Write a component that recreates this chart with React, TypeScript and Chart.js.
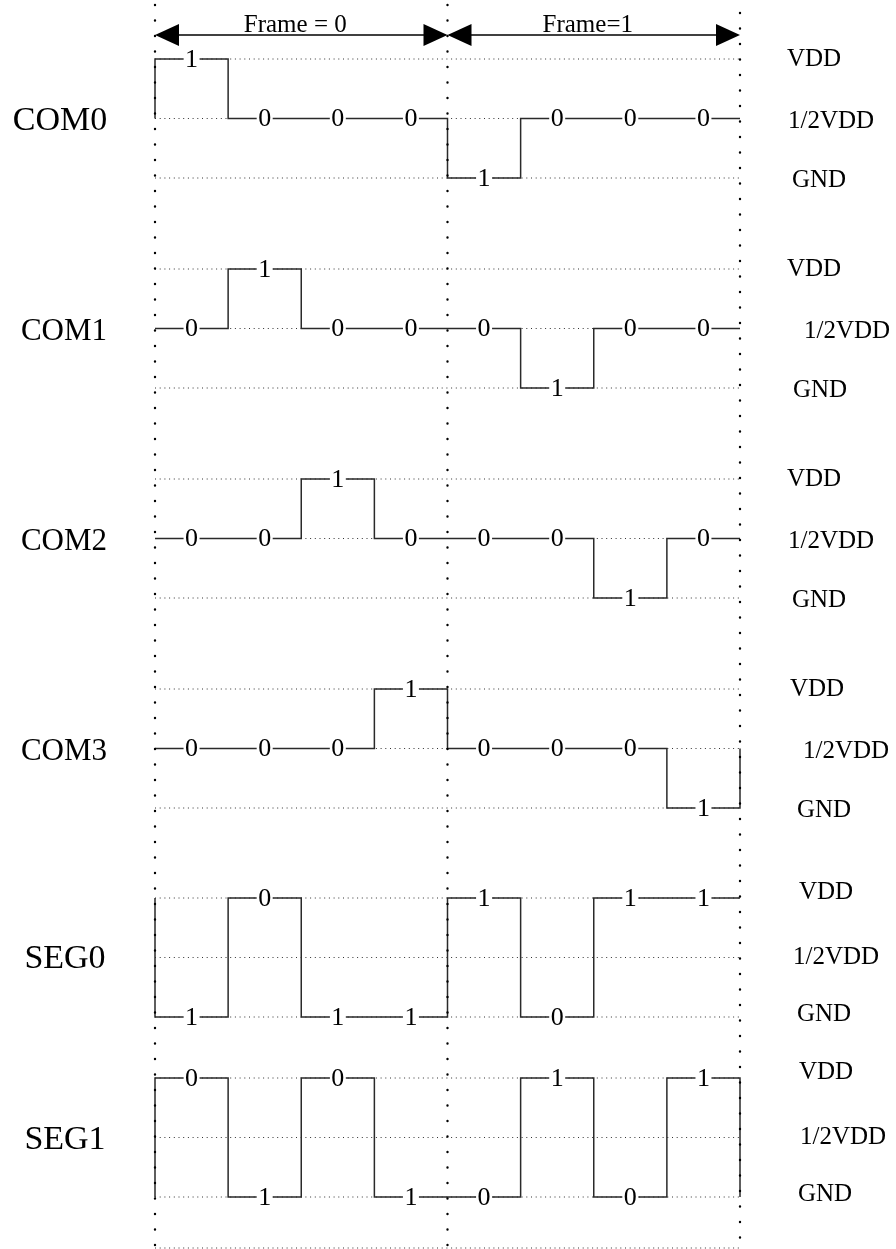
import React, { useEffect, useRef } from 'react';
import { Chart, registerables } from 'chart.js';

Chart.register(...registerables);

// ---------- data ----------
const signalNames = ['COM0', 'COM1', 'COM2', 'COM3', 'SEG0', 'SEG1'];
const levelNames = ['VDD', '1/2VDD', 'GND'];
const levelValues = [1, 0.5, 0];
const frameLabels = ['Frame = 0', 'Frame=1'];
const frameBounds = [[0, 4], [4, 8]];
const slotCount = 8;

// level per time slot: 1 = VDD, 0.5 = 1/2VDD, 0 = GND
const com0Levels = [1, 0.5, 0.5, 0.5, 0, 0.5, 0.5, 0.5];
const com1Levels = [0.5, 1, 0.5, 0.5, 0.5, 0, 0.5, 0.5];
const com2Levels = [0.5, 0.5, 1, 0.5, 0.5, 0.5, 0, 0.5];
const com3Levels = [0.5, 0.5, 0.5, 1, 0.5, 0.5, 0.5, 0];
const seg0Levels = [0, 1, 0, 0, 1, 0, 1, 1];
const seg1Levels = [1, 0, 1, 0, 0, 1, 0, 1];

// bit printed in each slot
const com0Bits = ['1', '0', '0', '0', '1', '0', '0', '0'];
const com1Bits = ['0', '1', '0', '0', '0', '1', '0', '0'];
const com2Bits = ['0', '0', '1', '0', '0', '0', '1', '0'];
const com3Bits = ['0', '0', '0', '1', '0', '0', '0', '1'];
const seg0Bits = ['1', '0', '1', '1', '1', '0', '1', '1'];
const seg1Bits = ['0', '1', '0', '1', '0', '1', '0', '1'];

// level before the first slot and after the last slot
const startLevels = [0.5, 0.5, 0.5, 0.5, 1, 0];
const endLevels = [0.5, 0.5, 0.5, 0.5, 1, 0];

const allLevels = [com0Levels, com1Levels, com2Levels, com3Levels, seg0Levels, seg1Levels];
const allBits = [com0Bits, com1Bits, com2Bits, com3Bits, seg0Bits, seg1Bits];

// ---------- layout ----------
const W = 896;
const H = 1249;
const x0Px = 155;
const slotPx = 73.125;
const rowVddY = [59, 269, 479, 689, 898, 1078];
const levelStep = 59.5;
const bottomLineY = 1248;
const vLinePhase = [5, 5, 13];
const arrowY = 35;
const nameX = [60, 64, 64, 64, 65, 65];
const nameDy = [3, 3, 3, 3, 2, 3];
const nameSize = [34, 31, 31, 31, 34, 34];
const rightLabelX = [
  [814, 831, 819],
  [814, 847, 820],
  [814, 831, 819],
  [817, 846, 824],
  [826, 836, 824],
  [826, 843, 825],
];
const rightLabelDyCom = [0, 3, 2];
const rightLabelDySeg = [-6, 0, -3];
const FONT = "'Liberation Serif', 'Times New Roman', Times, serif";

const levelY = (row: number, lv: number) => rowVddY[row] + (1 - lv) * 2 * levelStep;

function waveformPoints(row: number) {
  const lv = allLevels[row];
  const pts: { x: number; y: number }[] = [];
  pts.push({ x: 0, y: levelY(row, startLevels[row]) });
  for (let i = 0; i < slotCount; i++) {
    pts.push({ x: i, y: levelY(row, lv[i]) });
    pts.push({ x: i + 1, y: levelY(row, lv[i]) });
  }
  pts.push({ x: slotCount, y: levelY(row, endLevels[row]) });
  return pts;
}

const textPlugin = {
  id: 'timingText',
  afterDatasetsDraw(chart: any) {
    const ctx = chart.ctx as CanvasRenderingContext2D;
    const xs = chart.scales.x;
    const ys = chart.scales.y;
    ctx.save();
    // slot bits
    ctx.font = `26px ${FONT}`;
    ctx.textAlign = 'center';
    ctx.textBaseline = 'middle';
    allBits.forEach((bits, r) => {
      bits.forEach((b, i) => {
        const px = xs.getPixelForValue(i + 0.5);
        const py = ys.getPixelForValue(levelY(r, allLevels[r][i]));
        const w = ctx.measureText(b).width + 3;
        ctx.fillStyle = '#fff';
        ctx.fillRect(px - w / 2, py - 8, w, 16);
        ctx.fillStyle = '#000';
        ctx.fillText(b, px, py + 1);
      });
    });
    // signal names
    signalNames.forEach((n, r) => {
      ctx.font = `${nameSize[r]}px ${FONT}`;
      const py = ys.getPixelForValue(levelY(r, 0.5)) + nameDy[r];
      ctx.fillText(n, nameX[r], py);
    });
    // level names
    ctx.font = `25px ${FONT}`;
    signalNames.forEach((_, r) => {
      levelNames.forEach((ln, k) => {
        const dy = r < 4 ? rightLabelDyCom[k] : rightLabelDySeg[k];
        const py = ys.getPixelForValue(levelY(r, levelValues[k])) + dy;
        ctx.fillText(ln, rightLabelX[r][k], py);
      });
    });
    // frame arrows
    ctx.strokeStyle = '#000';
    ctx.fillStyle = '#000';
    ctx.lineWidth = 1.5;
    frameBounds.forEach(([a, b], f) => {
      const pa = xs.getPixelForValue(a);
      const pb = xs.getPixelForValue(b);
      ctx.beginPath();
      ctx.moveTo(pa + 2, arrowY);
      ctx.lineTo(pb - 2, arrowY);
      ctx.stroke();
      const L = 24, hh = 11;
      ctx.beginPath();
      ctx.moveTo(pa, arrowY);
      ctx.lineTo(pa + L, arrowY - hh);
      ctx.lineTo(pa + L, arrowY + hh);
      ctx.closePath();
      ctx.fill();
      ctx.beginPath();
      ctx.moveTo(pb, arrowY);
      ctx.lineTo(pb - L, arrowY - hh);
      ctx.lineTo(pb - L, arrowY + hh);
      ctx.closePath();
      ctx.fill();
      ctx.font = `25px ${FONT}`;
      ctx.textBaseline = 'alphabetic';
      ctx.textAlign = 'center';
      ctx.fillText(frameLabels[f], (pa + pb) / 2 - 6, arrowY - 3);
    });
    ctx.restore();
  },
};

export default function App() {
  const ref = useRef<HTMLCanvasElement | null>(null);
  useEffect(() => {
    if (!ref.current) return;
    const datasets: any[] = [];
    // waveforms
    signalNames.forEach((n, r) => {
      datasets.push({
        label: n,
        data: waveformPoints(r),
        borderColor: '#2a2a2a',
        borderWidth: 1.5,
        pointRadius: 0,
        tension: 0,
        fill: false,
        order: 1,
      });
    });
    // horizontal dotted reference levels
    signalNames.forEach((_, r) => {
      levelValues.forEach((lv) => {
        const y = levelY(r, lv);
        datasets.push({
          data: [{ x: 0, y }, { x: slotCount, y }],
          borderColor: '#333',
          borderWidth: 1,
          borderDash: [1, 3.7],
          pointRadius: 0,
          order: 5,
        });
      });
    });
    datasets.push({
      data: [{ x: 0, y: bottomLineY }, { x: slotCount, y: bottomLineY }],
      borderColor: '#333',
      borderWidth: 1,
      borderDash: [1, 3.7],
      pointRadius: 0,
      order: 5,
    });
    // vertical dotted frame boundaries
    [0, 4, 8].forEach((xv, k) => {
      datasets.push({
        data: [{ x: xv, y: 0 }, { x: xv, y: H }],
        borderColor: '#000',
        borderWidth: 2.4,
        borderDash: [0, 15.5],
        borderDashOffset: 15.5 - vLinePhase[k],
        borderCapStyle: 'round',
        pointRadius: 0,
        order: 0,
      });
    });
    const chart = new Chart(ref.current, {
      type: 'line',
      data: { datasets },
      options: {
        animation: false,
        responsive: false,
        maintainAspectRatio: false,
        devicePixelRatio: 1,
        layout: { padding: 0 },
        plugins: { legend: { display: false }, tooltip: { enabled: false }, title: { display: false } },
        events: [],
        scales: {
          x: {
            type: 'linear',
            display: false,
            min: -x0Px / slotPx,
            max: (W - x0Px) / slotPx,
          },
          y: {
            type: 'linear',
            display: false,
            reverse: true,
            min: 0,
            max: H,
          },
        },
      },
      plugins: [textPlugin],
    });
    return () => chart.destroy();
  }, []);
  return (
    <div style={{ position: 'absolute', left: 0, top: 0, width: W, height: H, background: '#fff' }}>
      <canvas ref={ref} width={W} height={H} style={{ display: 'block', width: W, height: H }} />
    </div>
  );
}
